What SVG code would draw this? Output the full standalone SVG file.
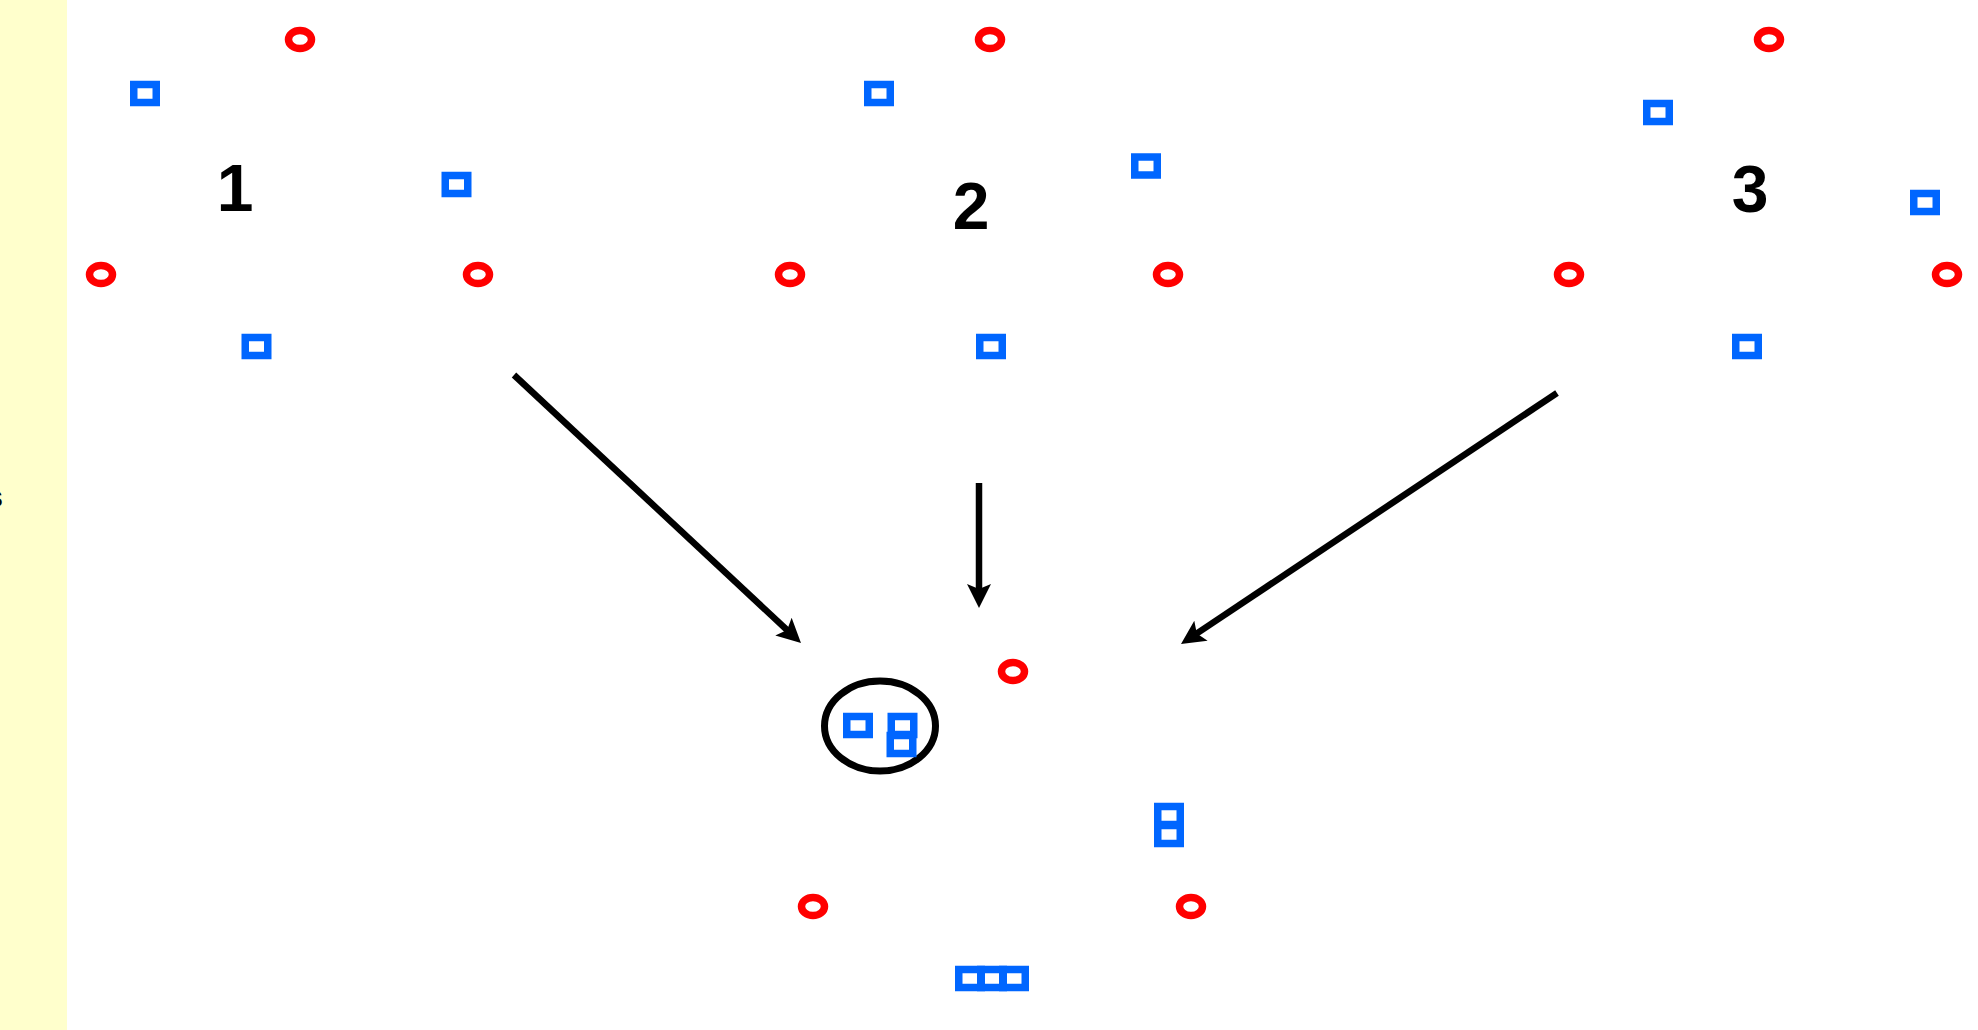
<svg xmlns="http://www.w3.org/2000/svg" width="1978" height="1030" viewBox="0 0 1978 1030">
<style>
.c{fill:none;stroke:#FF0000;stroke-width:7.5}
.s{fill:none;stroke:#0066FF;stroke-width:7.5}
.lbl{font-family:"Liberation Sans",Arial,sans-serif;font-weight:bold;font-size:66px;fill:#000;text-anchor:middle}
.ar{fill:none;stroke:#000;stroke-width:6.5;marker-end:url(#ah)}
</style>
<defs>
<marker id="ah" markerUnits="userSpaceOnUse" viewBox="0 -13 26 26" markerWidth="26" markerHeight="26" refX="8" refY="0" orient="auto">
<path d="M0,-12 L24,0 L0,12 L5,0 Z" fill="#000"/>
</marker>
<ellipse id="ring" cx="0" cy="0" rx="11.5" ry="9" class="c"/>
<rect id="box" x="-11.25" y="-9" width="22.5" height="18" class="s"/>
</defs>
<rect width="1978" height="1030" fill="#fff"/>
<rect x="0" y="0" width="67" height="1030" fill="#FFFFCC"/>
<text x="3" y="507" font-family="Liberation Sans,Arial,sans-serif" font-weight="bold" font-size="30" text-anchor="end">s</text>

<g id="cluster1">
<use href="#ring" x="300" y="39.5"/>
<use href="#box" x="145" y="93.5"/>
<use href="#box" x="456.5" y="184.5"/>
<use href="#ring" x="101" y="274.5"/>
<use href="#ring" x="478" y="274.5"/>
<use href="#box" x="256.5" y="346.5"/>
<text class="lbl" x="235" y="211">1</text>
</g>

<g id="cluster2">
<use href="#ring" x="990" y="39.5"/>
<use href="#box" x="879" y="93.5"/>
<use href="#box" x="1146" y="166"/>
<use href="#ring" x="790" y="274.5"/>
<use href="#ring" x="1168" y="274.5"/>
<use href="#box" x="991" y="346.5"/>
<text class="lbl" x="971" y="229">2</text>
</g>

<g id="cluster3">
<use href="#ring" x="1769" y="39.5"/>
<use href="#box" x="1658" y="112.5"/>
<use href="#box" x="1925" y="202.5"/>
<use href="#ring" x="1569" y="274.5"/>
<use href="#ring" x="1947" y="274.5"/>
<use href="#box" x="1747" y="346.5"/>
<text class="lbl" x="1750" y="212">3</text>
</g>

<g id="result">
<use href="#ring" x="1013" y="671.5"/>
<ellipse cx="880" cy="726" rx="55.5" ry="45" fill="none" stroke="#000" stroke-width="7"/>
<use href="#box" x="858" y="725.5"/>
<use href="#box" x="902.5" y="725.5"/>
<use href="#box" x="901.5" y="744.5"/>
<use href="#box" x="1169" y="815.5"/>
<use href="#box" x="1169" y="834.5"/>
<use href="#ring" x="813" y="906.5"/>
<use href="#ring" x="1191" y="906.5"/>
<use href="#box" x="970" y="978.5"/>
<use href="#box" x="992" y="978.5"/>
<use href="#box" x="1014" y="978.5"/>
</g>

<g id="connectors">
<path class="ar" d="M514,375 L789.3,632.1"/>
<path class="ar" d="M979,483 L979,592"/>
<path class="ar" d="M1557,393 L1194.3,635.1"/>
</g>
</svg>
